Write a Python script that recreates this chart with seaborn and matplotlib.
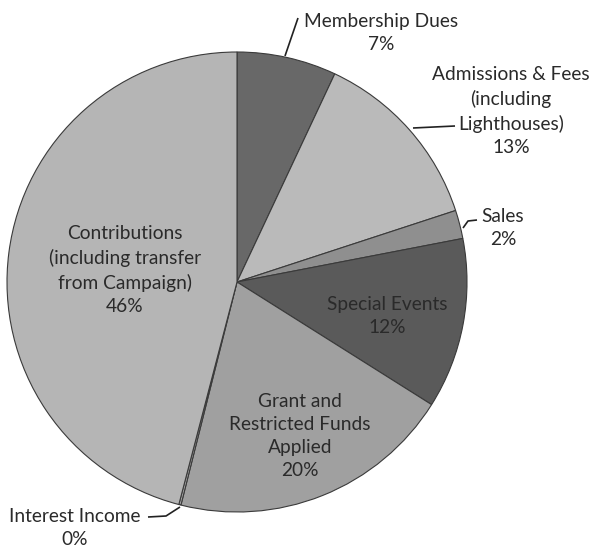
import matplotlib
matplotlib.use("Agg")
import matplotlib.pyplot as plt
import seaborn as sns

# slices, clockwise from 12 o'clock
categories = [
    "Membership Dues",
    "Admissions & Fees\n(including\nLighthouses)",
    "Sales",
    "Special Events",
    "Grant and\nRestricted Funds\nApplied",
    "Interest Income",
    "Contributions\n(including transfer\nfrom Campaign)",
]
shares = [7, 13, 2, 12, 20, 0.15, 46]
pct_labels = ["7%", "13%", "2%", "12%", "20%", "0%", "46%"]
grays = ["#686868", "#bababa", "#8f8f8f", "#5a5a5a", "#a0a0a0", "#a8a8a8", "#b5b5b5"]

sns.set_theme(style="white")
plt.rcParams["font.family"] = ["Lato", "DejaVu Sans"]

W, H = 593, 548
fig = plt.figure(figsize=(W / 100, H / 100), dpi=100)
ax = fig.add_axes([0, 0, 1, 1])

# pie drawn in a y-down frame, so flip start and direction
ax.pie(
    shares,
    colors=grays,
    startangle=-90,
    counterclock=True,
    center=(237, 282),
    radius=230,
    frame=True,
    wedgeprops=dict(edgecolor="#3a3a3a", linewidth=0.8),
)
ax.set_xlim(0, W)
ax.set_ylim(H, 0)
ax.set_aspect("equal")
ax.axis("off")

txt = dict(ha="center", va="center", fontsize=13.8, color="#2a2a2a", linespacing=1.45)

# label placement (pixel coords, y down)
label_pos = [(381, 33), (511, 111), (503, 228), (387, 316), (300, 436), (75, 528), (125, 270)]
for name, pct, (x, y) in zip(categories, pct_labels, label_pos):
    ax.text(x, y, f"{name}\n{pct}", **txt)

leaders = [
    [(285, 56), (298, 18)],
    [(413, 128), (455, 126)],
    [(463, 228), (468, 221), (477, 220)],
    [(180, 507), (166, 516), (148, 517)],
]
for pts in leaders:
    xs, ys = zip(*pts)
    ax.plot(xs, ys, color="#222222", lw=1.2, solid_capstyle="butt")

fig.savefig("out.png", dpi=100, facecolor="white")
